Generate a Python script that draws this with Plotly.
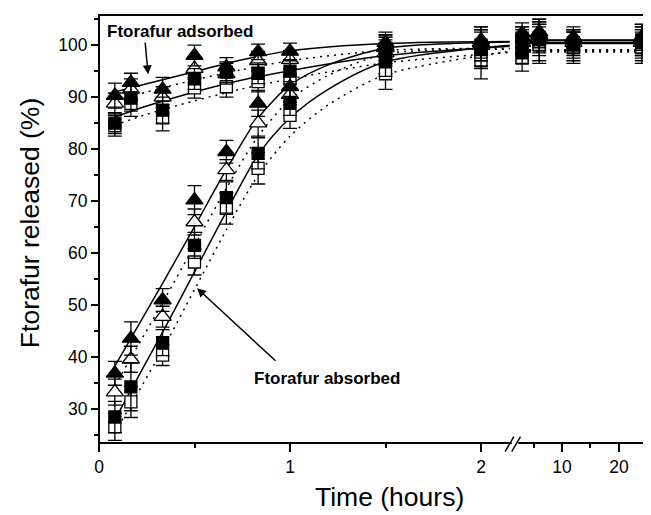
import plotly.graph_objects as go

# ---------------- data ----------------
t_left = [0.083, 0.167, 0.333, 0.5, 0.667, 0.833, 1.0, 1.5, 2.0]
t_right = [3, 6, 12, 24]

# Ftorafur adsorbed
ads_tri_filled = [90.3, 92.8, 91.5, 98.0, 95.8, 98.7, 98.8, 100.5, 101.0, 102.3, 102.5, 101.5, 101.5]
ads_tri_open   = [88.8, 91.5, 90.0, 95.5, 94.5, 97.0, 97.2, 99.8, 100.5, 101.5, 102.0, 101.0, 101.0]
ads_sq_filled  = [85.0, 89.8, 87.5, 93.5, 94.8, 94.6, 95.0, 99.0, 100.0, 100.5, 101.5, 100.5, 101.0]
ads_sq_open    = [84.5, 88.8, 86.0, 91.8, 92.0, 93.0, 93.5, 97.5, 99.0, 99.5, 100.5, 100.0, 100.0]
# Ftorafur absorbed
abs_tri_filled = [36.9, 43.6, 51.0, 70.2, 79.5, 88.8, 92.0, 99.5, 100.5, 101.5, 102.5, 101.0, 101.5]
abs_tri_open   = [33.3, 39.6, 47.8, 66.0, 76.0, 85.0, 90.5, 98.5, 100.0, 100.5, 101.5, 100.5, 100.5]
abs_sq_filled  = [28.5, 34.3, 42.8, 61.5, 70.7, 79.2, 89.0, 97.0, 99.5, 98.5, 101.0, 100.0, 100.5]
abs_sq_open    = [26.6, 31.4, 40.4, 58.3, 68.6, 76.3, 86.5, 94.5, 97.0, 97.5, 100.0, 99.5, 99.5]

# error bars (+/-)
err_ads_tri_filled = [2.4, 1.8, 2.3, 2.0, 1.8, 1.5, 1.6, 2.0, 2.5, 2.0, 2.5, 2.0, 2.5]
err_ads_tri_open   = [2.0, 2.0, 2.0, 2.0, 2.0, 1.8, 1.8, 2.0, 2.5, 2.0, 2.5, 2.0, 2.5]
err_ads_sq_filled  = [2.0, 2.5, 2.5, 2.0, 2.0, 2.0, 2.0, 2.5, 3.0, 2.5, 3.0, 2.5, 3.0]
err_ads_sq_open    = [2.0, 2.5, 2.5, 2.0, 2.0, 2.0, 2.0, 3.0, 3.5, 2.5, 3.5, 3.0, 3.0]
err_abs_tri_filled = [2.3, 3.2, 2.2, 2.8, 2.2, 2.5, 2.0, 2.5, 3.0, 2.0, 2.5, 2.0, 2.5]
err_abs_tri_open   = [2.5, 2.5, 2.0, 2.5, 2.0, 2.5, 2.0, 2.5, 3.0, 2.0, 2.5, 2.0, 2.5]
err_abs_sq_filled  = [3.0, 4.6, 2.5, 2.5, 3.0, 3.0, 2.5, 3.0, 3.5, 2.0, 3.0, 2.5, 3.0]
err_abs_sq_open    = [2.6, 3.0, 2.0, 2.5, 3.0, 3.0, 2.5, 3.0, 3.5, 2.5, 3.5, 3.0, 3.0]

# fitted curves (read at sample times), left segment
fit_t_ads = [0.083, 0.25, 0.5, 0.75, 1.0, 1.5, 2.15]
fit_ads_tri_solid = [91.0, 92.6, 94.9, 97.2, 98.9, 100.3, 100.7]
fit_ads_tri_dot   = [89.4, 91.0, 93.3, 95.3, 97.0, 99.0, 99.4]
fit_ads_sq_solid  = [86.2, 88.3, 91.0, 93.3, 95.1, 98.0, 99.8]
fit_ads_sq_dot    = [84.6, 86.7, 89.3, 91.6, 93.5, 96.6, 98.6]
fit_t_abs = [0.083, 0.333, 0.5, 0.667, 0.833, 1.0, 1.2, 1.5, 2.15]
fit_abs_tri_solid = [38.3, 54.2, 65.1, 76.1, 86.0, 92.3, 96.2, 99.4, 100.6]
fit_abs_tri_dot   = [34.5, 50.5, 61.5, 72.5, 82.5, 89.5, 94.2, 98.3, 99.2]
fit_abs_sq_solid  = [28.0, 44.8, 56.4, 68.0, 78.9, 86.0, 91.5, 96.8, 100.0]
fit_abs_sq_dot    = [25.5, 41.5, 53.0, 64.5, 75.0, 82.5, 88.5, 94.3, 98.8]
# plateau of the fits on the right segment
fit_t_right = [3, 26]
plateau_solid = [101.0, 100.9, 100.5, 100.3]
plateau_dot = [99.1, 99.0, 98.9, 98.7]

x_ticks_left = [0, 1, 2]
x_ticks_right = [10, 20]
x_tick_text_left = ["0", "1", "2"]
x_tick_text_right = ["10", "20"]

# ---------------- figure ----------------
fig = go.Figure()
FONT = "Liberation Sans, Arial, sans-serif"
DOT = "2px,5px"

fits = [
    (fit_t_ads, fit_ads_tri_dot, plateau_dot[0], DOT),
    (fit_t_ads, fit_ads_sq_dot, plateau_dot[2], DOT),
    (fit_t_abs, fit_abs_tri_dot, plateau_dot[1], DOT),
    (fit_t_abs, fit_abs_sq_dot, plateau_dot[3], DOT),
    (fit_t_ads, fit_ads_tri_solid, plateau_solid[0], "solid"),
    (fit_t_ads, fit_ads_sq_solid, plateau_solid[2], "solid"),
    (fit_t_abs, fit_abs_tri_solid, plateau_solid[1], "solid"),
    (fit_t_abs, fit_abs_sq_solid, plateau_solid[3], "solid"),
]
for tt, yy, plat, dash in fits:
    fig.add_trace(go.Scatter(x=tt, y=yy, mode="lines", xaxis="x", yaxis="y",
                             line=dict(color="black", width=1.5, dash=dash, shape="spline", smoothing=0.8),
                             hoverinfo="skip", showlegend=False))
    fig.add_trace(go.Scatter(x=fit_t_right, y=[plat, plat], mode="lines", xaxis="x2", yaxis="y",
                             line=dict(color="black", width=1.5, dash=dash),
                             hoverinfo="skip", showlegend=False))

series = [
    ("Adsorbed, open square", ads_sq_open, err_ads_sq_open, "square", "white", 12),
    ("Absorbed, open square", abs_sq_open, err_abs_sq_open, "square", "white", 12),
    ("Adsorbed, open triangle", ads_tri_open, err_ads_tri_open, "triangle-up", "white", 15),
    ("Absorbed, open triangle", abs_tri_open, err_abs_tri_open, "triangle-up", "white", 15),
    ("Adsorbed, filled square", ads_sq_filled, err_ads_sq_filled, "square", "black", 12),
    ("Absorbed, filled square", abs_sq_filled, err_abs_sq_filled, "square", "black", 12),
    ("Adsorbed, filled triangle", ads_tri_filled, err_ads_tri_filled, "triangle-up", "black", 15),
    ("Absorbed, filled triangle", abs_tri_filled, err_abs_tri_filled, "triangle-up", "black", 15),
]
n = len(t_left)
for name, vals, errs, sym, fill, size in series:
    for xs, ys, es, xa in ((t_left, vals[:n], errs[:n], "x"), (t_right, vals[n:], errs[n:], "x2")):
        fig.add_trace(go.Scatter(
            x=xs, y=ys, mode="markers", name=name, xaxis=xa, yaxis="y",
            marker=dict(symbol=sym, size=size, color=fill, line=dict(color="black", width=1.3)),
            error_y=dict(type="data", array=es, color="black", thickness=1.3, width=7),
            showlegend=False))

D = 0.755
TICKFONT = dict(size=17.5, family=FONT)
fig.update_layout(
    # the page body adds an 8px margin, so the figure is 8px smaller here
    width=643, height=507,
    margin=dict(l=91, r=1, t=7, b=72),
    paper_bgcolor="white", plot_bgcolor="white",
    font=dict(family=FONT, color="black"),
    showlegend=False,
    xaxis=dict(domain=[0, D], range=[0, 2.178], anchor="y",
               tickmode="array", tickvals=x_ticks_left, ticktext=x_tick_text_left,
               ticks="outside", ticklen=8, tickwidth=1.5, tickcolor="black",
               tickfont=TICKFONT, showgrid=False, zeroline=False, showline=False,
               minor=dict(tickmode="array", tickvals=[0.5, 1.5], ticks="outside", ticklen=4,
                          tickwidth=1.5, tickcolor="black", showgrid=False)),
    xaxis2=dict(domain=[D, 1], range=[1.754, 25.44], anchor="y",
                tickmode="array", tickvals=x_ticks_right, ticktext=x_tick_text_right,
                ticks="outside", ticklen=8, tickwidth=1.5, tickcolor="black",
                tickfont=TICKFONT, showgrid=False, zeroline=False, showline=False,
                minor=dict(tickmode="array", tickvals=[5, 15, 25], ticks="outside", ticklen=4,
                           tickwidth=1.5, tickcolor="black", showgrid=False)),
    yaxis=dict(range=[23.5, 105.8], anchor="x", tickmode="linear", tick0=30, dtick=10,
               ticks="outside", ticklen=7, tickwidth=1.5, tickcolor="black",
               tickfont=TICKFONT, showgrid=False, zeroline=False, showline=False,
               minor=dict(tick0=25, dtick=10, ticks="outside", ticklen=4, tickwidth=1.5,
                          tickcolor="black", showgrid=False)),
)

# frame
fig.add_shape(type="rect", xref="paper", yref="paper", x0=0, x1=1, y0=0, y1=1,
              line=dict(color="black", width=2), layer="above")
# axis break marks
fig.add_shape(type="rect", xref="paper", yref="paper", x0=D - 0.006, x1=D + 0.006, y0=-0.004, y1=0.004,
              line=dict(width=0), fillcolor="white", layer="above")
for dx in (-0.012, 0.0):
    fig.add_shape(type="line", xref="paper", yref="paper",
                  x0=D + dx - 0.006, y0=-0.02, x1=D + dx + 0.01, y1=0.015,
                  line=dict(color="black", width=1.5), layer="above")

# axis titles
fig.add_annotation(text="Ftorafur released (%)", xref="paper", yref="paper",
                   x=-0.125, y=0.514, textangle=-90, showarrow=False,
                   font=dict(size=26.5, family=FONT), xanchor="center", yanchor="middle")
fig.add_annotation(text="Time (hours)", xref="paper", yref="paper",
                   x=0.528, y=-0.126, showarrow=False,
                   font=dict(size=26.5, family=FONT), xanchor="center", yanchor="middle")

# labels with arrows
fig.add_annotation(text="<b>Ftorafur adsorbed</b>", xref="x", yref="y", x=0.424, y=102.7,
                   showarrow=False, font=dict(size=17, family=FONT))
fig.add_annotation(text="", xref="x", yref="y", x=0.257, y=94.4, axref="x", ayref="y",
                   ax=0.241, ay=100.8, showarrow=True, arrowhead=2, arrowsize=1.2,
                   arrowwidth=1.5, arrowcolor="black")
fig.add_annotation(text="<b>Ftorafur absorbed</b>", xref="x", yref="y", x=1.194, y=35.96,
                   showarrow=False, font=dict(size=17, family=FONT))
fig.add_annotation(text="", xref="x", yref="y", x=0.513, y=53.27, axref="x", ayref="y",
                   ax=0.932, ay=39.04, showarrow=True, arrowhead=2, arrowsize=1.2,
                   arrowwidth=1.5, arrowcolor="black")

fig.write_html("out.html")
